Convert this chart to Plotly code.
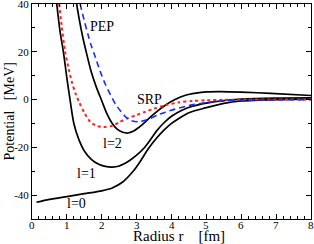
import plotly.graph_objects as go

# l=0 curve
l0_r = [0.13, 0.5, 1.0, 1.5, 2.0, 2.3, 2.6, 2.9, 3.1, 3.34, 3.55, 3.77, 4.0, 4.2, 4.5, 4.97, 5.5, 6.0, 7.0, 8.0]
l0_v = [-43, -41.8, -40.6, -39.4, -38.2, -37, -34.5, -30, -26, -20.5, -16.5, -13, -10, -8, -5.5, -3.5, -1.6, -0.6, 0.0, 0.2]

# l=1 curve
l1_r = [0.71, 0.8, 0.9, 1.0, 1.1, 1.2, 1.35, 1.5, 1.7, 1.9, 2.1, 2.3, 2.5, 2.8, 3.0, 3.2, 3.4, 3.58, 3.8, 4.0, 4.3, 4.6, 5.0, 5.5, 6.0, 7.0, 8.0]
l1_v = [40, 29, 20, 9, -1, -10, -17, -21.5, -25, -27, -28, -28.3, -27.8, -25.5, -23.3, -20.5, -16.7, -13, -9.5, -7, -4.5, -2.8, -1.5, -0.4, 0.2, 0.6, 0.7]

# l=2 curve
l2_r = [1.28, 1.35, 1.45, 1.57, 1.7, 1.85, 2.0, 2.15, 2.3, 2.45, 2.6, 2.75, 2.9, 3.05, 3.25, 3.5, 3.82, 4.1, 4.4, 4.7, 5.0, 5.4, 6.0, 6.84, 8.0]
l2_v = [40, 34, 26.5, 19, 11.5, 5, -0.5, -6, -10, -12.5, -13.7, -14, -13.3, -11.8, -9.3, -6, -2.4, 0, 1.8, 2.7, 3.2, 3.3, 3.1, 2.6, 1.7]

# SRP (red dotted)
srp_r = [0.78, 0.85, 0.95, 1.05, 1.15, 1.25, 1.35, 1.5, 1.67, 1.85, 2.05, 2.3, 2.5, 2.75, 3.0, 3.25, 3.5, 3.82, 4.2, 4.6, 5.0, 5.5, 6.0, 7.0, 8.0]
srp_v = [40, 31, 20, 13, 7, 2.5, -1, -5.5, -9.3, -11, -11.5, -11, -9.5, -7.8, -6.5, -5.1, -3.8, -2.4, -1.2, -0.6, -0.3, -0.1, 0, 0, 0]

# PEP (blue dashed)
pep_r = [1.38, 1.5, 1.6, 1.7, 1.81, 1.95, 2.1, 2.25, 2.4, 2.55, 2.7, 2.85, 3.05, 3.3, 3.6, 3.82, 4.1, 4.5, 4.97, 5.5, 6.0, 7.0, 8.0]
pep_v = [40, 33, 27.5, 22.5, 18, 12, 6.5, 2, -2, -5, -7.5, -8.8, -9.3, -8.5, -6.5, -5.3, -4, -2.5, -1.3, -0.6, -0.3, -0.1, 0]

x_ticks = [0, 1, 2, 3, 4, 5, 6, 7, 8]
y_ticks = [-40, -20, 0, 20, 40]
y_tick_text = ["-40", "-20", "0", "20", "40"]

labels = [
    ("PEP", 2.0, 30.5),
    ("SRP", 3.37, 0.2),
    ("l=2", 2.31, -18.5),
    ("l=1", 1.55, -31),
    ("l=0", 1.28, -43.6),
]

FONT = "Liberation Serif, Times New Roman, serif"
NB = "\u00a0"

fig = go.Figure()
for r, v in [(l0_r, l0_v), (l1_r, l1_v), (l2_r, l2_v)]:
    fig.add_trace(go.Scatter(x=r, y=v, mode="lines", line=dict(color="black", width=1.7, shape="spline", smoothing=0.8),
                             showlegend=False, hoverinfo="skip"))
fig.add_trace(go.Scatter(x=srp_r, y=srp_v, mode="lines",
                         line=dict(color="#ff2020", width=2, dash="dot", shape="spline", smoothing=0.8),
                         showlegend=False, hoverinfo="skip"))
fig.add_trace(go.Scatter(x=pep_r, y=pep_v, mode="lines",
                         line=dict(color="#1030ff", width=1.6, dash="6px,4px", shape="spline", smoothing=0.8),
                         showlegend=False, hoverinfo="skip"))

for t, x, y in labels:
    fig.add_annotation(x=x, y=y, text=t, showarrow=False, xref="x", yref="y",
                       font=dict(family=FONT, size=14, color="black"))

# x tick labels placed close under the axis
for t in x_ticks:
    fig.add_annotation(x=t, y=0, xref="x", yref="paper", text=str(t), showarrow=False,
                       yanchor="middle", xanchor="center", yshift=-5.5, borderpad=0,
                       font=dict(family=FONT, size=11, color="black"))

fig.add_annotation(x=0.527, y=-0.079, xref="paper", yref="paper", text="Radius r" + NB * 4 + "[fm]",
                   showarrow=False, font=dict(family=FONT, size=15, color="black"), borderpad=0,
                   xanchor="center", yanchor="middle")
fig.add_annotation(x=-0.079, y=0.5, xref="paper", yref="paper", text="Potential" + NB * 3 + "[MeV]",
                   showarrow=False, textangle=-90, font=dict(family=FONT, size=14, color="black"),
                   xanchor="center", yanchor="middle")

axis_common = dict(showgrid=False, zeroline=False, showline=True, linecolor="black", linewidth=1,
                   mirror="ticks", ticks="inside", ticklen=5, tickwidth=1, tickcolor="black", automargin=False,
                   ticklabeloverflow="allow",
                   tickfont=dict(family=FONT, size=11, color="black"))

fig.update_xaxes(range=[0, 8], tickvals=x_ticks, showticklabels=False,
                 minor=dict(dtick=0.2, ticks="inside", ticklen=3, tickcolor="black", showgrid=False),
                 **axis_common)
fig.update_yaxes(range=[-50, 40], tickvals=y_ticks, ticktext=y_tick_text,
                 minor=dict(dtick=10, ticks="inside", ticklen=3, tickcolor="black", showgrid=False),
                 **axis_common)

fig.update_layout(width=314, height=244, margin=dict(l=32, r=3, t=4, b=25),
                  plot_bgcolor="white", paper_bgcolor="white", font=dict(family=FONT))

fig.write_html("out.html", config={"displayModeBar": False},
               post_script="document.body.style.margin='0';document.body.style.padding='0';")
